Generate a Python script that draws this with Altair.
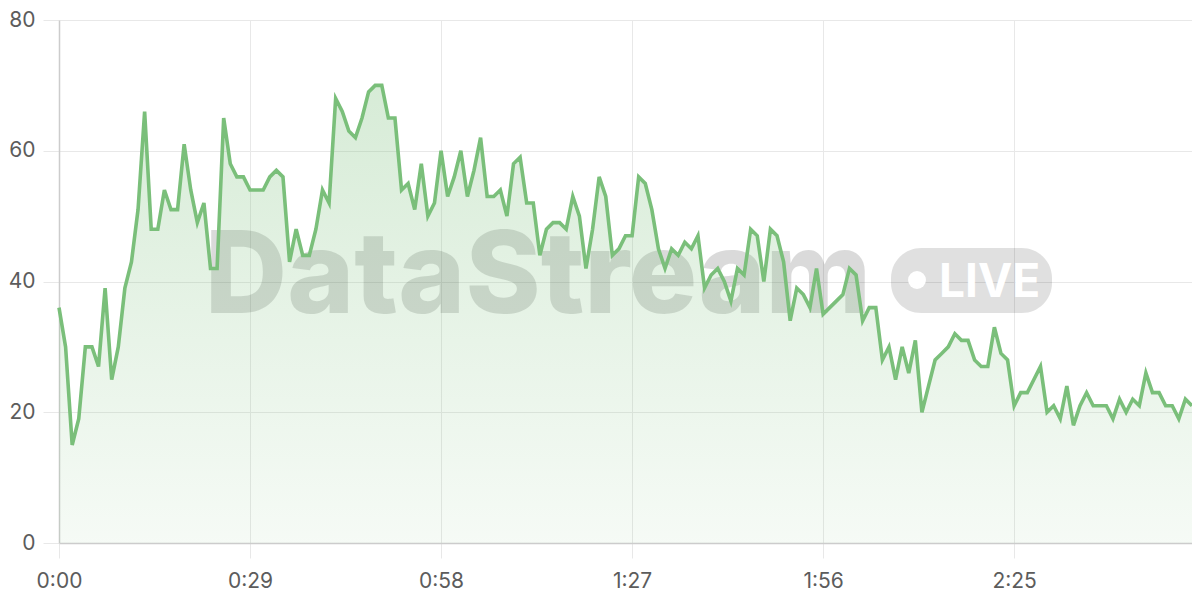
import altair as alt
import pandas as pd

# ---- data ----
seconds = list(range(173))
values = [36, 30, 15, 19, 30, 30, 27, 39, 25, 30,
          39, 43, 51, 66, 48, 48, 54, 51, 51, 61,
          54, 49, 52, 42, 42, 65, 58, 56, 56, 54,
          54, 54, 56, 57, 56, 43, 48, 44, 44, 48,
          54, 52, 68, 66, 63, 62, 65, 69, 70, 70,
          65, 65, 54, 55, 51, 58, 50, 52, 60, 53,
          56, 60, 53, 57, 62, 53, 53, 54, 50, 58,
          59, 52, 52, 44, 48, 49, 49, 48, 53, 50,
          42, 48, 56, 53, 44, 45, 47, 47, 56, 55,
          51, 45, 42, 45, 44, 46, 45, 47, 39, 41,
          42, 40, 37, 42, 41, 48, 47, 40, 48, 47,
          43, 34, 39, 38, 36, 42, 35, 36, 37, 38,
          42, 41, 34, 36, 36, 28, 30, 25, 30, 26,
          31, 20, 24, 28, 29, 30, 32, 31, 31, 28,
          27, 27, 33, 29, 28, 21, 23, 23, 25, 27,
          20, 21, 19, 24, 18, 21, 23, 21, 21, 21,
          19, 22, 20, 22, 21, 26, 23, 23, 21, 21,
          19, 22, 21]
x_ticks = [0, 29, 58, 87, 116, 145]
y_ticks = [0, 20, 40, 60, 80]
watermark_text = ["DataStream"]
badge_text = ["LIVE"]

df = pd.DataFrame({"t": seconds, "v": values})

W, H = 1133, 523
GREEN = "#7abf7a"
FONT = "Inter"

x_enc = alt.X(
    "t:Q",
    scale=alt.Scale(domain=[0, 172], nice=False, zero=False),
    axis=alt.Axis(
        values=x_ticks,
        labelExpr="floor(datum.value/60) + ':' + (datum.value % 60 < 10 ? '0' : '') + (datum.value % 60)",
        title=None,
        tickSize=15,
        labelPadding=12,
        labelFlush=False,
    ),
)
y_enc = alt.Y(
    "v:Q",
    scale=alt.Scale(domain=[0, 80], nice=False),
    axis=alt.Axis(values=y_ticks, title=None, tickSize=16, labelPadding=8),
)

base = alt.Chart(df)

area = base.mark_area(
    color=alt.Gradient(
        gradient="linear",
        stops=[
            alt.GradientStop(color="rgba(122,191,122,0.30)", offset=0),
            alt.GradientStop(color="rgba(122,191,122,0.07)", offset=1),
        ],
        x1=1, x2=1, y1=0, y2=1,
    )
).encode(x=x_enc, y=y_enc)

line = base.mark_line(color=GREEN, strokeWidth=3.6).encode(x=x_enc, y=y_enc)

wm = alt.Chart(pd.DataFrame({"label": watermark_text})).mark_text(
    font=FONT, fontSize=114, fontWeight=800, color="#000000", opacity=0.14,
    align="center", baseline="alphabetic",
).encode(text="label:N", x=alt.value(479), y=alt.value(293))

badge_bg = alt.Chart(pd.DataFrame({"label": badge_text})).mark_rect(
    color="#000000", opacity=0.12, cornerRadius=30,
).encode(x=alt.value(832), x2=alt.value(993), y=alt.value(228), y2=alt.value(293))

badge_dot = alt.Chart(pd.DataFrame({"label": badge_text})).mark_point(
    shape="circle", filled=True, color="#ffffff", opacity=1, size=320,
).encode(x=alt.value(858), y=alt.value(260))

badge_label = alt.Chart(pd.DataFrame({"label": badge_text})).mark_text(
    font=FONT, fontSize=46, fontWeight=700, color="#ffffff",
    align="left", baseline="alphabetic",
).encode(text="label:N", x=alt.value(880), y=alt.value(277))

chart = alt.layer(wm, area, badge_bg, badge_dot, badge_label, line).properties(
    width=W, height=H, autosize="none",
    padding={"left": 51, "top": 12, "right": 0, "bottom": 50},
).configure_view(stroke=None).configure_axis(
    gridColor="#e8e8e8",
    domainColor="#cccccc",
    tickColor="#e8e8e8",
    labelColor="#5c5c5c",
    labelFont=FONT,
    labelFontSize=21,
    domainWidth=1.5,
)

chart.save("out.html", embed_options={"renderer": "svg", "actions": False})
